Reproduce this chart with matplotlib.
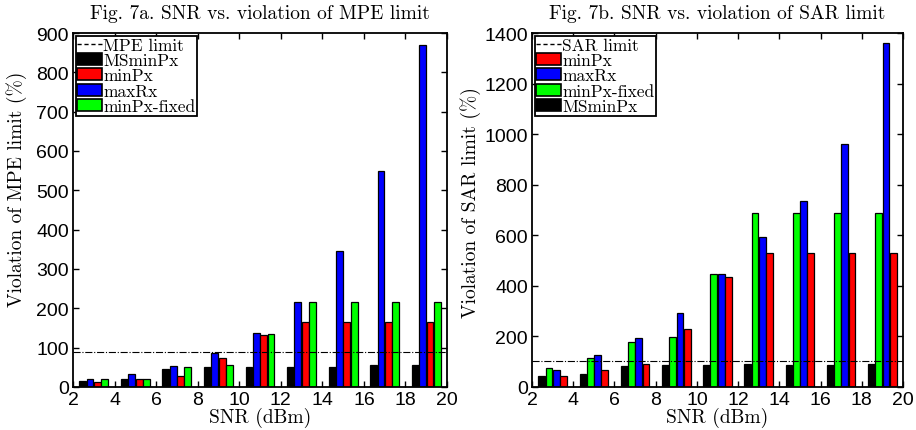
import matplotlib
matplotlib.use('Agg')
import matplotlib.pyplot as plt
import numpy as np
from matplotlib.lines import Line2D
from matplotlib.patches import Patch

snr = np.array([3, 5, 7, 9, 11, 13, 15, 17, 19])

# Fig. 7a - MPE violation (%)
mpe_msminpx = [14, 20, 46, 50, 50, 52, 52, 55, 57]
mpe_minpx = [13, 21, 29, 74, 133, 165, 165, 165, 165]
mpe_maxrx = [21, 34, 54, 86, 137, 217, 345, 548, 869]
mpe_fixed = [20, 20, 52, 57, 134, 215, 215, 215, 215]
mpe_limit = 90

# Fig. 7b - SAR violation (%)
sar_msminpx = [42, 50, 83, 88, 88, 89, 88, 88, 91]
sar_minpx = [42, 66, 91, 229, 435, 528, 528, 528, 528]
sar_maxrx = [68, 128, 195, 291, 446, 594, 737, 962, 1359]
sar_fixed = [75, 114, 177, 196, 446, 689, 689, 689, 689]
sar_limit = 102

cols = {'MSminPx': 'k', 'minPx': '#ff0000', 'maxRx': '#0000ff', 'minPx-fixed': '#00ff00'}
serif = 'cmr10'
tickfont = 'Liberation Sans'

offs = [-0.53, -0.18, 0.18, 0.53]
bw = 0.33

fig = plt.figure(figsize=(9.16, 4.31), dpi=100)
ax1 = fig.add_axes([0.0797, 0.0998, 0.4083, 0.8213])
ax2 = fig.add_axes([0.5808, 0.0998, 0.405, 0.8213])


def style(ax, ymax, ystep, title, ylab, ylab_pos):
    ax.set_xlim(2, 20)
    ax.set_ylim(0, ymax)
    ax.set_xticks(np.arange(2, 21, 2))
    ax.set_yticks(np.arange(0, ymax + 1, ystep))
    ax.tick_params(direction='in', top=True, right=True, length=4, width=1,
                   labelsize=14)
    ax.tick_params(axis='x', pad=3)
    ax.tick_params(axis='y', pad=3)
    for lab in ax.get_xticklabels() + ax.get_yticklabels():
        lab.set_fontfamily(tickfont)
    for s in ax.spines.values():
        s.set_linewidth(1.3)
    ax.set_title(title, fontfamily=serif, fontsize=14, pad=11)
    ax.set_xlabel('SNR (dBm)', fontfamily=serif, fontsize=14, labelpad=-1)
    ax.set_ylabel(ylab, fontfamily=serif, fontsize=14)
    ax.yaxis.set_label_coords(*ylab_pos)


def bars(ax, series):
    for off, (name, vals) in zip(offs, series):
        ax.bar(snr + off, vals, width=bw, color=cols[name], edgecolor='k',
               linewidth=0.9, zorder=2)


def legend(ax, lim_label, order):
    hs = [Line2D([], [], color='k', ls=(0, (3, 2)), lw=1)]
    hs += [Patch(facecolor=cols[n], edgecolor='k', linewidth=1.2) for n in order]
    leg = ax.legend(hs, [lim_label] + order, loc='upper left', fancybox=False,
                    framealpha=1, edgecolor='k', borderaxespad=0.15,
                    borderpad=0.1, labelspacing=0.0, handlelength=1.4,
                    handleheight=0.7, handletextpad=0.1,
                    prop={'family': serif, 'size': 12.5})
    leg.get_frame().set_linewidth(1.3)


bars(ax1, [('MSminPx', mpe_msminpx), ('maxRx', mpe_maxrx),
           ('minPx', mpe_minpx), ('minPx-fixed', mpe_fixed)])
ax1.axhline(mpe_limit, color='k', ls='-.', lw=0.8, zorder=3)
style(ax1, 900, 100, 'Fig. 7a. SNR vs. violation of MPE limit',
      'Violation of MPE limit (%)', (-0.123, 0.56))
legend(ax1, 'MPE limit', ['MSminPx', 'minPx', 'maxRx', 'minPx-fixed'])

bars(ax2, [('MSminPx', sar_msminpx), ('minPx-fixed', sar_fixed),
           ('maxRx', sar_maxrx), ('minPx', sar_minpx)])
ax2.axhline(sar_limit, color='k', ls='-.', lw=0.8, zorder=3)
style(ax2, 1400, 200, 'Fig. 7b. SNR vs. violation of SAR limit',
      'Violation of SAR limit (%)', (-0.137, 0.523))
legend(ax2, 'SAR limit', ['minPx', 'maxRx', 'minPx-fixed', 'MSminPx'])

fig.savefig('out.png', dpi=100)
